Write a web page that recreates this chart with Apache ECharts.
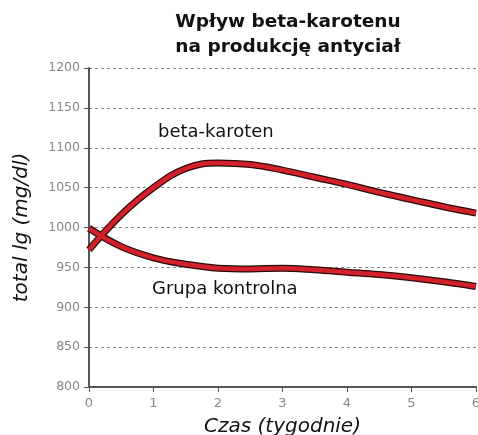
<!DOCTYPE html>
<html>
<head>
<meta charset="utf-8">
<style>html,body{margin:0;padding:0;background:#fff}#c{width:478px;height:435px}</style>
<script src="https://cdn.jsdelivr.net/npm/echarts@6/dist/echarts.min.js"></script>
</head>
<body>
<div id="c"></div>
<script>
var weeks = [0, 0.5, 1, 1.5, 2, 2.5, 3, 3.5, 4, 4.5, 5, 5.5, 6];
var betaKaroten = [972, 1016, 1050, 1074, 1081, 1079, 1072, 1063, 1054, 1044, 1035, 1026, 1018];
var grupaKontrolna = [999, 976, 962, 954, 949, 948, 949, 947, 944, 941, 937, 932, 926];
var yTicks = [800, 850, 900, 950, 1000, 1050, 1100, 1150, 1200];
var xTicks = [0, 1, 2, 3, 4, 5, 6];

function pairs(xs, ys) { return xs.map(function (x, i) { return [x, ys[i]]; }); }

var font = '"DejaVu Sans", sans-serif';
var chart = echarts.init(document.getElementById('c'));

function lineSeries(name, data, color, width, z) {
  return {
    name: name, type: 'line', smooth: 0.4, symbol: 'none', z: z,
    data: data, silent: true,
    lineStyle: { color: color, width: width, cap: 'butt' }
  };
}

chart.setOption({
  animation: false,
  title: {
    text: 'Wpływ beta-karotenu\nna produkcję antyciał',
    left: 283, top: 5, textAlign: 'center',
    textStyle: { fontFamily: font, fontSize: 18.5, fontWeight: 'bold', color: '#111', lineHeight: 25 }
  },
  grid: { left: 89, right: 2, top: 68, bottom: 48, containLabel: false, outerBoundsMode: 'none' },
  xAxis: {
    type: 'value', min: xTicks[0], max: xTicks[xTicks.length - 1], interval: 1,
    name: 'Czas (tygodnie)', nameLocation: 'middle', nameGap: 30,
    nameTextStyle: { fontFamily: font, fontSize: 20, fontStyle: 'italic', color: '#111' },
    axisLine: { show: true, lineStyle: { color: '#555', width: 2 } },
    axisTick: { show: true, inside: false, length: 5, lineStyle: { color: '#555', width: 1 } },
    axisLabel: { fontFamily: font, fontSize: 13, color: '#888', margin: 10,
      formatter: function (v) { return String(v); } },
    splitLine: { show: false }
  },
  yAxis: {
    type: 'value', min: yTicks[0], max: yTicks[yTicks.length - 1], interval: 50,
    name: 'total lg (mg/dl)', nameLocation: 'middle', nameGap: 57, nameRotate: 90,
    nameTextStyle: { fontFamily: font, fontSize: 20, fontStyle: 'italic', color: '#111' },
    axisLine: { show: true, lineStyle: { color: '#555', width: 2 } },
    axisTick: { show: true, length: 5, lineStyle: { color: '#555', width: 1 } },
    axisLabel: { fontFamily: font, fontSize: 12.5, color: '#888', margin: 9,
      formatter: function (v) { return String(v); } },
    splitLine: { show: true, lineStyle: { color: '#888', type: [3, 3], width: 1 } }
  },
  graphic: [
    { type: 'text', left: 158, top: 123, style: { text: 'beta-karoten', fontFamily: font, fontSize: 18, fill: '#111' } },
    { type: 'text', left: 152, top: 280, style: { text: 'Grupa kontrolna', fontFamily: font, fontSize: 18, fill: '#111' } }
  ],
  series: [
    lineSeries('beta-karoten-edge', pairs(weeks, betaKaroten), '#2a0a0a', 7, 2),
    lineSeries('beta-karoten', pairs(weeks, betaKaroten), '#d4202a', 4.5, 3),
    lineSeries('kontrolna-edge', pairs(weeks, grupaKontrolna), '#2a0a0a', 7, 2),
    lineSeries('kontrolna', pairs(weeks, grupaKontrolna), '#d4202a', 4.5, 3)
  ]
});
</script>
</body>
</html>
